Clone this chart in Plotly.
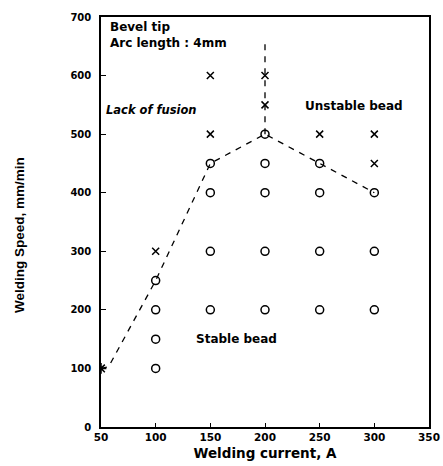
import plotly.graph_objects as go

stable_x = [100, 100, 100, 100, 150, 150, 150, 150, 200, 200, 200, 200, 200, 250, 250, 250, 250, 300, 300, 300]
stable_y = [100, 150, 200, 250, 200, 300, 400, 450, 200, 300, 400, 450, 500, 200, 300, 400, 450, 200, 300, 400]
unstable_x = [100, 150, 150, 200, 200, 250, 300, 300]
unstable_y = [300, 500, 600, 550, 600, 500, 500, 450]
fusion_x = [50]
fusion_y = [100]
boundary_x = [50, 57, 100, 150, 200, 250, 300]
boundary_y = [100, 103, 250, 450, 500, 450, 400]
vert_x = [200, 200]
vert_y = [500, 660]
x_ticks = [50, 100, 150, 200, 250, 300, 350]
y_ticks = [0, 100, 200, 300, 400, 500, 600, 700]

fig = go.Figure()
fig.add_trace(go.Scatter(x=boundary_x, y=boundary_y, mode="lines",
                         line=dict(color="black", width=1.3, dash="6px,6px")))
fig.add_trace(go.Scatter(x=vert_x, y=vert_y, mode="lines",
                         line=dict(color="black", width=1.3, dash="6px,6px")))
fig.add_trace(go.Scatter(x=stable_x, y=stable_y, mode="markers",
                         marker=dict(symbol="circle-open", size=8, color="black", line=dict(width=1.5))))
fig.add_trace(go.Scatter(x=unstable_x, y=unstable_y, mode="markers",
                         marker=dict(symbol="x-thin-open", size=7, color="black", line=dict(width=1.5))))
fig.add_trace(go.Scatter(x=fusion_x, y=fusion_y, mode="markers",
                         marker=dict(symbol="asterisk-open", size=9, color="black", line=dict(width=1.5))))

lab = dict(family="DejaVu Sans", size=12, color="black")
fig.add_annotation(x=56, y=698, text="<b>Bevel tip<br>Arc length : 4mm</b>", showarrow=False,
                   xanchor="left", yanchor="top", align="left", font=lab)
fig.add_annotation(x=53, y=541, text="<b><i>Lack of fusion</i></b>", showarrow=False,
                   xanchor="left", yanchor="middle", font=dict(family="DejaVu Sans", size=11.5, color="black"))
fig.add_annotation(x=281, y=548, text="<b>Unstable bead</b>", showarrow=False,
                   xanchor="center", yanchor="middle", font=lab)
fig.add_annotation(x=174, y=150, text="<b>Stable bead</b>", showarrow=False,
                   xanchor="center", yanchor="middle", font=lab)
fig.add_annotation(xref="paper", yref="paper", x=-0.25, y=0.468, textangle=-90,
                   text="<b>Welding Speed, mm/min</b>", showarrow=False,
                   xanchor="center", yanchor="middle",
                   font=dict(family="Liberation Sans", size=13.5, color="black"))

fig.update_layout(
    width=443, height=466,
    margin=dict(l=101, r=14, t=17, b=39),
    paper_bgcolor="white", plot_bgcolor="white",
    showlegend=False,
    font=dict(family="DejaVu Sans", size=10, color="black"),
)
fig.update_xaxes(range=[50, 350], tickvals=x_ticks, ticktext=[f"<b>{v}</b>" for v in x_ticks],
                 ticks="inside", ticklen=4, tickcolor="black", showgrid=False, zeroline=False,
                 showline=True, linecolor="black", linewidth=1.5, mirror=True, automargin=False,
                 tickfont=dict(family="DejaVu Sans", size=10.5, color="black"),
                 title=dict(text="<b>Welding current, A</b>", standoff=6,
                            font=dict(family="DejaVu Sans", size=13.5, color="black")))
fig.update_yaxes(range=[0, 700], tickvals=y_ticks, ticktext=[f"<b>{v}</b>" for v in y_ticks],
                 ticks="inside", ticklen=5, tickcolor="black", showgrid=False, zeroline=False,
                 showline=True, linecolor="black", linewidth=1.5, mirror=True, automargin=False,
                 ticklabelstandoff=6,
                 tickfont=dict(family="DejaVu Sans", size=10, color="black"))
fig.write_html("out.html", config={"displayModeBar": False},
               post_script="document.body.style.margin='0';document.body.style.overflow='hidden';")
